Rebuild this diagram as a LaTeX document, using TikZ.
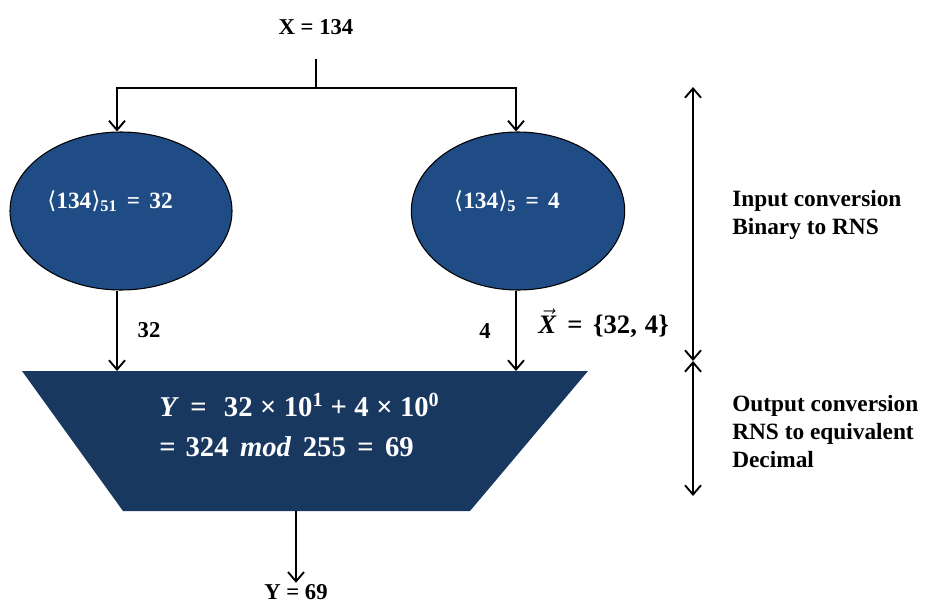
\documentclass[tikz,border=0pt]{standalone}
\usepackage{fontspec}
\setmainfont{Liberation Serif}
\newfontfamily\dvs{DejaVu Sans}
\usetikzlibrary{arrows.meta,shapes.geometric}
\definecolor{ellblue}{RGB}{31,76,132}
\definecolor{trapblue}{RGB}{24,56,96}
\newcommand{\eqs}{\hspace{0.4em}=\hspace{0.4em}}
\newcommand{\ops}[1]{\hspace{0.26em}#1\hspace{0.26em}}
\tikzset{
  tip/.style={-{Straight Barb[length=7pt,width=12pt,line width=1.4pt]}},
  conn/.style={tip, line width=1.4pt},
  dbl/.style={{Straight Barb[length=7pt,width=12pt,line width=1.4pt]}-{Straight Barb[length=7pt,width=12pt,line width=1.4pt]}, line width=1.4pt},
  lbl/.style={font=\fontsize{17}{21}\selectfont\bfseries, inner sep=1pt},
  side/.style={font=\fontsize{17.5}{21}\selectfont\bfseries, align=left, anchor=north west, inner sep=0pt},
  ell/.style={ellipse, draw=black, line width=0.8pt, fill=ellblue, minimum height=118.5pt},
  elltext/.style={text=white, font=\fontsize{17.5}{20}\selectfont\bfseries, inner sep=0pt},
}
\begin{document}
\begin{tikzpicture}[x=0.75pt,y=-0.75pt]
\useasboundingbox (0,0) rectangle (930,603);
% input
\node[lbl] (x) at (316,27) {X = 134};
\coordinate (xs) at (316,59);
\coordinate (split) at (316,88);
% ellipses
\node[ell, minimum width=166.5pt] (ea) at (121,211) {};
\node[ell, minimum width=160pt] (eb) at (518,211) {};
\node[elltext] (ta) at (110,201) {{\dvs\mdseries ⟨}134{\dvs\mdseries ⟩}\textsubscript{51}\eqs 32};
\node[elltext] (tb) at (507,201) {{\dvs\mdseries ⟨}134{\dvs\mdseries ⟩}\textsubscript{5}\eqs 4};
% connectors top
\draw[line width=1.4pt] (xs) -- (split);
\draw[conn] (split) -| (ea.north -| 117,0);
\draw[conn] (split) -| (eb.north -| 516,0);
% trapezoid
\coordinate (tl) at (22,371);
\coordinate (tr) at (588,371);
\coordinate (br) at (470,511);
\coordinate (bl) at (123,511);
\fill[trapblue] (tl) -- (tr) -- (br) -- (bl) -- cycle;
\coordinate (inA) at (117,371);
\coordinate (inB) at (516,371);
\coordinate (out) at (296,511);
\node[text=white, font=\fontsize{21.5}{30}\selectfont\bfseries, align=left, anchor=north west, inner sep=0pt] (formula) at (159,393)
  {\textit{Y}\eqs\hspace{0.2em}32\ops{×}10\textsuperscript{1}\ops{+}4\ops{×}10\textsuperscript{0}\\
   =\hspace{0.35em}324\hspace{0.4em}\textit{mod}\hspace{0.4em}255\eqs 69};
% connectors middle
\draw[conn] (ea.south -| inA) -- (inA);
\draw[conn] (eb.south -| inB) -- (inB);
\node[lbl] (l32) at (149,330) {32};
\node[lbl] (l4) at (485,331) {4};
\node[font=\fontsize{20}{22}\selectfont\bfseries, inner sep=0pt, anchor=west] (vec) at (538,323) {$\vec{\mbox{\textit{X}}}$\eqs\{32,\hspace{0.3em}4\}};
% output
\node[lbl] (y) at (296,592) {Y = 69};
\draw[conn] (out) -- (y.north);
% side arrows
\coordinate (d1) at (693,87);
\coordinate (d2) at (693,361);
\coordinate (d3) at (693,496);
\draw[dbl] (d1) -- (d2);
\draw[dbl] (d2) -- (d3);
\node[side] (s1) at (732,190) {Input conversion\\Binary to RNS};
\node[side] (s2) at (732,395) {Output conversion\\RNS to equivalent\\Decimal};
\end{tikzpicture}
\end{document}
